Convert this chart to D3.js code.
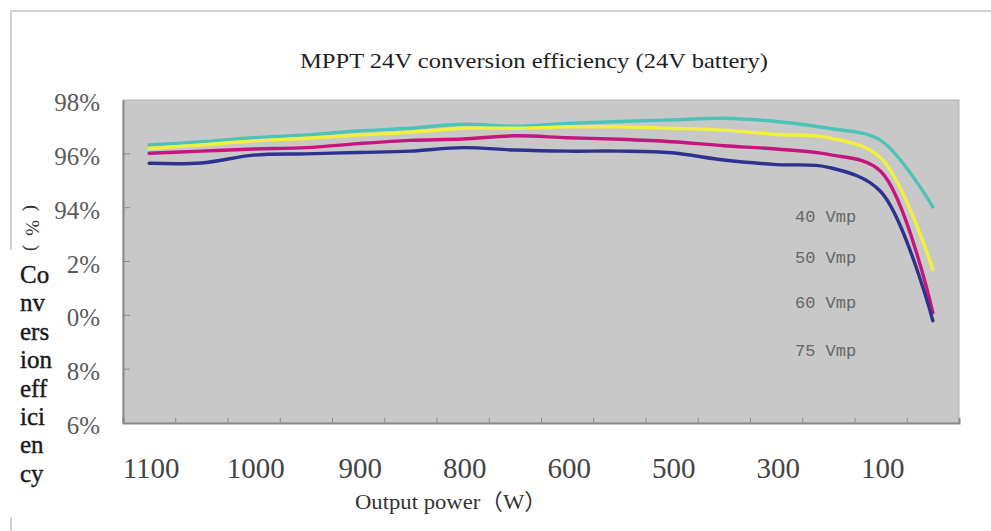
<!DOCTYPE html>
<html>
<head>
<meta charset="utf-8">
<script src="https://cdn.jsdelivr.net/npm/d3@7/dist/d3.min.js"></script>
<style>
  html, body { margin: 0; padding: 0; background: #fff; }
  svg { display: block; }
</style>
</head>
<body>
<svg id="chart" width="991" height="531"></svg>
<script>
// ---- data ----
const powerLabels = ["1100", "1000", "900", "800", "600", "500", "300", "100"];
const yTicks = [86, 88, 90, 92, 94, 96, 98];
const seriesNames = ["40 Vmp", "50 Vmp", "60 Vmp", "75 Vmp"];
const vmp40 = [96.33, 96.45, 96.60, 96.70, 96.85, 96.95, 97.10, 97.03, 97.13, 97.20, 97.26, 97.32, 97.20, 96.95, 96.50, 94.03];
const vmp50 = [96.20, 96.33, 96.48, 96.58, 96.70, 96.80, 96.95, 96.95, 97.00, 97.00, 96.95, 96.88, 96.72, 96.60, 95.85, 91.70];
const vmp60 = [96.02, 96.10, 96.18, 96.23, 96.38, 96.50, 96.55, 96.67, 96.60, 96.54, 96.45, 96.30, 96.18, 95.98, 95.35, 90.10];
const vmp75 = [95.65, 95.66, 95.95, 96.00, 96.05, 96.10, 96.23, 96.14, 96.10, 96.10, 96.04, 95.77, 95.60, 95.50, 94.60, 89.80];
const seriesColors = ["#4cc3b6", "#f2f03a", "#c4167e", "#2d3190"];

const allSeries = [vmp40, vmp50, vmp60, vmp75];
const nPts = vmp40.length;

// ---- layout ----
const svg = d3.select("#chart");
const plot = { left: 123, right: 959, top: 100, bottom: 423 };

const x = d3.scaleLinear().domain([-0.5, nPts - 0.5]).range([plot.left, plot.right]);
const y = d3.scaleLinear().domain([86, 98]).range([plot.bottom, plot.top]);

// outer frame
svg.append("path")
  .attr("d", `M10,11 H991 M11,11 V531`)
  .attr("stroke", "#d2d2d2").attr("stroke-width", 2).attr("fill", "none");

// title
svg.append("text")
  .attr("x", 534).attr("y", 68)
  .attr("text-anchor", "middle")
  .attr("font-family", "'Liberation Serif', 'Times New Roman', serif")
  .attr("font-size", 21)
  .attr("fill", "#1e1e1e")
  .attr("textLength", 468).attr("lengthAdjust", "spacingAndGlyphs")
  .text("MPPT 24V conversion efficiency (24V battery)");

// plot background
svg.append("rect")
  .attr("x", plot.left).attr("y", plot.top)
  .attr("width", plot.right - plot.left).attr("height", plot.bottom - plot.top)
  .attr("fill", "#c8c8c8").attr("stroke", "#b4b4b4").attr("stroke-width", 1);

// y axis
const yAxis = d3.axisLeft(y).tickValues(yTicks).tickSize(0).tickPadding(0)
  .tickFormat(d => d + "%");
const gy = svg.append("g").attr("transform", `translate(${plot.left},0)`).call(yAxis);
gy.select(".domain").attr("stroke", "#8a8a8a").attr("stroke-width", 2);
gy.selectAll(".tick text")
  .attr("x", 100 - plot.left).attr("dy", "0.42em")
  .attr("font-family", "'Liberation Serif', 'Times New Roman', serif")
  .attr("font-size", 25).attr("fill", "#5a5a5a");
// inward y tick marks
svg.append("g").selectAll("line").data(yTicks.slice(1, -1)).join("line")
  .attr("x1", plot.left).attr("x2", plot.left + 7)
  .attr("y1", d => y(d)).attr("y2", d => y(d))
  .attr("stroke", "#8a8a8a").attr("stroke-width", 1);

// x axis line + inward tick marks at category boundaries
const xAxis = d3.axisBottom(x).tickValues(d3.range(0.5, nPts - 0.5, 1)).tickSize(-5).tickFormat("");
const gx = svg.append("g").attr("transform", `translate(0,${plot.bottom})`).call(xAxis);
gx.select(".domain").attr("stroke", "#8a8a8a").attr("stroke-width", 2);
gx.selectAll(".tick line").attr("stroke", "#8a8a8a");

// x labels at every other category
svg.append("g").selectAll("text").data(powerLabels).join("text")
  .attr("x", (d, i) => x(i * 2) + 2).attr("y", 478)
  .attr("text-anchor", "middle")
  .attr("font-family", "'Liberation Serif', 'Times New Roman', serif")
  .attr("font-size", 29).attr("fill", "#444")
  .text(d => d);

// x title
svg.append("text")
  .attr("x", 451).attr("y", 509)
  .attr("text-anchor", "middle")
  .attr("font-family", "'Liberation Serif', 'Noto Sans CJK SC', serif")
  .attr("font-size", 22).attr("fill", "#333")
  .attr("textLength", 192).attr("lengthAdjust", "spacingAndGlyphs")
  .text("Output power（W）");

// lines
const line = d3.line()
  .x((d, i) => x(i))
  .y(d => y(d))
  .curve(d3.curveCatmullRom.alpha(0.5));
svg.append("g").selectAll("path").data(allSeries).join("path")
  .attr("d", d => line(d))
  .attr("fill", "none")
  .attr("stroke", (d, i) => seriesColors[i])
  .attr("stroke-width", 3.4)
  .attr("stroke-linecap", "round");

// series labels
const labelY = [216, 257, 302, 350];
svg.append("g").selectAll("text").data(seriesNames).join("text")
  .attr("x", 795).attr("y", (d, i) => labelY[i] + 6)
  .attr("font-family", "'Liberation Mono', 'DejaVu Sans Mono', monospace")
  .attr("font-size", 17).attr("fill", "#666")
  .text(d => d);

// y title box (covers part of the tick labels, as in the source image)
svg.append("rect")
  .attr("x", 0).attr("y", 250).attr("width", 67).attr("height", 267)
  .attr("fill", "#fff");
svg.append("text")
  .attr("transform", "translate(26,228) rotate(90)")
  .attr("text-anchor", "middle")
  .attr("font-family", "'Liberation Serif', serif")
  .attr("font-size", 19).attr("fill", "#333")
  .attr("textLength", 46).attr("lengthAdjust", "spacing")
  .text("(%)");
const yTitleParts = ["Co", "nv", "ers", "ion", "eff", "ici", "en", "cy"];
svg.append("g").selectAll("text").data(yTitleParts).join("text")
  .attr("x", 20).attr("y", (d, i) => 283 + i * 28.4)
  .attr("font-family", "'Liberation Serif', serif")
  .attr("font-size", 25).attr("fill", "#1a1a1a")
  .attr("stroke", "#1a1a1a").attr("stroke-width", 0.4)
  .text(d => d);
</script>
</body>
</html>
